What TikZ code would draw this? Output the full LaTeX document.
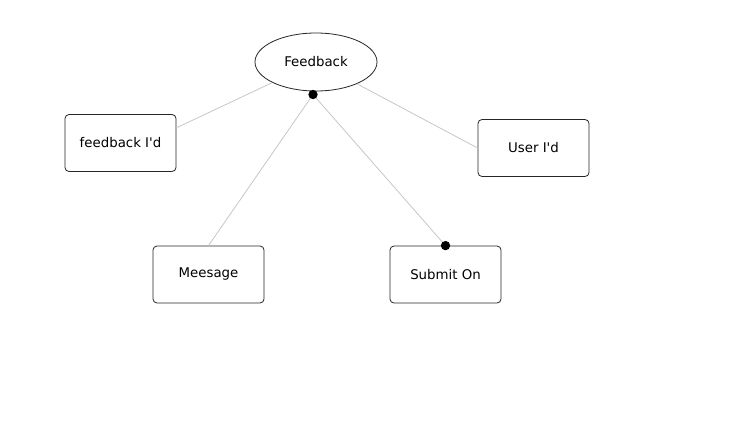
\documentclass[tikz,border=0pt]{standalone}
\usepackage{fontspec}
\setmainfont{DejaVu Sans}[Ligatures=TeXOff]
\usetikzlibrary{shapes.geometric}
\begin{document}
\begin{tikzpicture}[x=0.75pt,y=-0.75pt,
  ent/.style={draw=black!85,fill=white,rounded corners=3pt,minimum width=111*0.75pt,minimum height=57*0.75pt,inner sep=0pt,font=\fontsize{10}{12}\selectfont,line width=0.6pt},
  attr/.style={draw=black!85,fill=white,ellipse,minimum width=122*0.75pt,minimum height=58*0.75pt,inner sep=0pt,font=\fontsize{10}{12}\selectfont,line width=0.6pt},
  link/.style={draw=black!22,line width=0.6pt},
  dotc/.style={circle,fill=black,inner sep=0pt,minimum size=7pt}]
\useasboundingbox[fill=white] (0,0) rectangle (745,446);
\node[attr] (fbk) at (316,62) {Feedback};
\node[ent] (fid) at (120.5,143) {feedback I'd};
\node[ent] (uid) at (533.5,148) {User I'd};
\node[ent] (mes) at (208.5,274.5) {Meesage};
\node[ent] (sub) at (445.5,274.5) {Submit On};
\coordinate (fidend) at (176,128);
\coordinate (dtop) at (313,94.5);
\path[link] (fbk) -- (fidend);
\path[link] (fbk) -- (uid.west);
\path[link] (dtop) -- (mes.north);
\path[link] (dtop) -- (sub.north);
\node[dotc] (d1) at (dtop) {};
\node[dotc] (d2) at (sub.north) {};
\end{tikzpicture}
\end{document}
